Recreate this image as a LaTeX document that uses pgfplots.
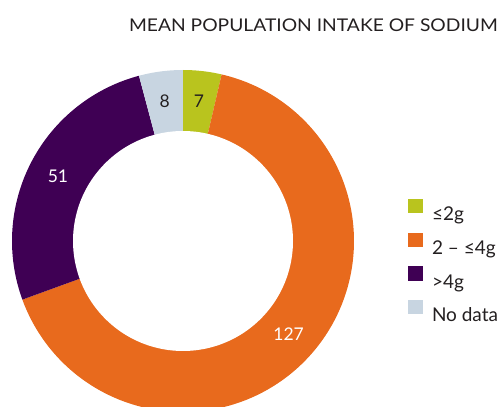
\documentclass[border=0pt]{standalone}
\usepackage{pgfplots}
\pgfplotsset{compat=1.18}
\usepackage{fontspec}
\setmainfont{Lato}
\newfontfamily\titlefont[FakeStretch=1.1]{Lato}
\definecolor{cgreen}{RGB}{185,196,30}
\definecolor{corange}{RGB}{232,106,29}
\definecolor{cpurple}{RGB}{63,0,84}
\definecolor{cgray}{RGB}{200,213,225}
\definecolor{ctext}{RGB}{35,31,32}
% slice values (clockwise from top)
\def\va{7}\def\vb{127}\def\vc{51}\def\vd{8}
\pgfmathsetmacro{\tot}{\va+\vb+\vc+\vd}
\pgfmathsetmacro{\k}{360/\tot}
\pgfmathsetmacro{\aA}{90}
\pgfmathsetmacro{\aB}{90-\k*\va}
\pgfmathsetmacro{\aC}{\aB-\k*\vb}
\pgfmathsetmacro{\aD}{\aC-\k*\vc}
\pgfmathsetmacro{\aE}{\aD-\k*\vd}
\pgfmathsetmacro{\mA}{(\aA+\aB)/2}
\pgfmathsetmacro{\mB}{(\aB+\aC)/2}
\pgfmathsetmacro{\mC}{(\aC+\aD)/2}
\pgfmathsetmacro{\mD}{(\aD+\aE)/2}
\def\cx{183}\def\cy{166}\def\Rout{171}\def\Rin{110}\def\Rlab{141}
\begin{document}
\begin{tikzpicture}
\begin{axis}[
  scale only axis, width=501pt, height=407pt,
  xmin=0, xmax=501, ymin=0, ymax=407,
  hide axis, clip=true,
  legend style={at={(axis cs:407.5,208)}, anchor=north west, draw=none, fill=none,
    inner sep=0pt, outer sep=0pt, row sep=11.9pt,
    font=\fontsize{19}{19}\selectfont\color{ctext},
    nodes={inner sep=0pt, text height=14.5pt, text depth=0pt},
    /tikz/every odd column/.append style={column sep=9.5pt}},
  legend cell align=left,
  legend image code/.code={\fill[#1] (0pt,0pt) rectangle (15pt,14.5pt);},
]
\addplot[fill=cgreen, draw=none, domain=\aB:\aA, samples=30, variable=\t]
  ({\cx+\Rout*cos(\t)},{\cy+\Rout*sin(\t)}) -- (axis cs:\cx,\cy) -- cycle;
\addlegendentry{≤2g}
\addplot[fill=corange, draw=none, domain=\aC:\aB, samples=200, variable=\t]
  ({\cx+\Rout*cos(\t)},{\cy+\Rout*sin(\t)}) -- (axis cs:\cx,\cy) -- cycle;
\addlegendentry{2 – ≤4g}
\addplot[fill=cpurple, draw=none, domain=\aD:\aC, samples=80, variable=\t]
  ({\cx+\Rout*cos(\t)},{\cy+\Rout*sin(\t)}) -- (axis cs:\cx,\cy) -- cycle;
\addlegendentry{>4g}
\addplot[fill=cgray, draw=none, domain=\aE:\aD, samples=30, variable=\t]
  ({\cx+\Rout*cos(\t)},{\cy+\Rout*sin(\t)}) -- (axis cs:\cx,\cy) -- cycle;
\addlegendentry{No data}
\addplot[fill=white, draw=none, domain=0:360, samples=200, variable=\t, forget plot]
  ({\cx+\Rin*cos(\t)},{\cy+\Rin*sin(\t)}) -- cycle;
\node[font=\fontsize{17.5}{17.5}\selectfont, text=ctext] at (axis cs:{\cx+\Rlab*cos(\mA)},{\cy+\Rlab*sin(\mA)}) {7};
\node[font=\fontsize{17.5}{17.5}\selectfont, text=white] at (axis cs:{\cx+\Rlab*cos(\mB)},{\cy+\Rlab*sin(\mB)}) {127};
\node[font=\fontsize{17.5}{17.5}\selectfont, text=white] at (axis cs:{\cx+\Rlab*cos(\mC)},{\cy+\Rlab*sin(\mC)}) {51};
\node[font=\fontsize{17.5}{17.5}\selectfont, text=ctext] at (axis cs:{\cx+\Rlab*cos(\mD)},{\cy+\Rlab*sin(\mD)}) {8};
\node[anchor=base east, inner sep=0pt, font=\titlefont\fontsize{17.5}{17.5}\selectfont, text=ctext] at (axis cs:498,375) {MEAN POPULATION INTAKE OF SODIUM};
\coordinate (BL) at (rel axis cs:0,0);
\coordinate (TR) at (rel axis cs:1,1);
\end{axis}
\pgfresetboundingbox
\useasboundingbox (BL) rectangle (TR);
\end{tikzpicture}
\end{document}
